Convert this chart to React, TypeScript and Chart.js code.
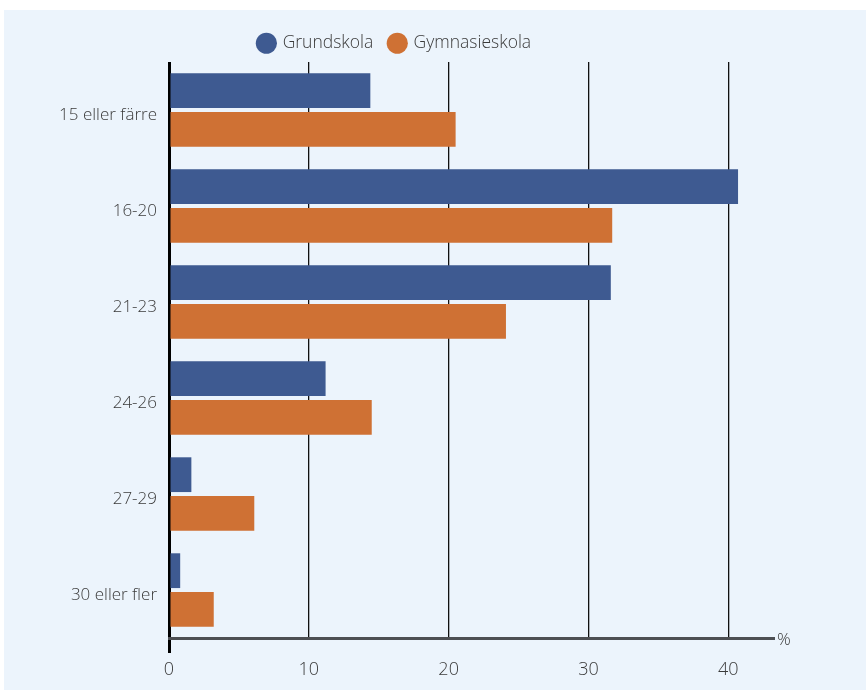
import React, { useEffect, useRef } from "react";
import { Chart, registerables } from "chart.js";

Chart.register(...registerables);

const categories = ["15 eller färre", "16-20", "21-23", "24-26", "27-29", "30 eller fler"];
const grundskola = [14.4, 40.7, 31.6, 11.2, 1.6, 0.8];
const gymnasieskola = [20.5, 31.7, 24.1, 14.5, 6.1, 3.2];
const seriesNames = ["Grundskola", "Gymnasieskola"];
const xTickValues = [0, 10, 20, 30, 40];
const unitLabel = "%";

const FONT = "'Open Sans', 'Noto Sans', sans-serif";
const TEXT = "#3a3a3a";

const unitPlugin = {
  id: "unitLabel",
  afterDraw(chart: any) {
    const { ctx, chartArea } = chart;
    ctx.save();
    ctx.font = `300 17px ${FONT}`;
    ctx.fillStyle = TEXT;
    ctx.textAlign = "left";
    ctx.textBaseline = "middle";
    ctx.fillText(unitLabel, chartArea.right + 4, chartArea.bottom + 2);
    ctx.restore();
  },
};

export default function App() {
  const ref = useRef<HTMLCanvasElement>(null);
  useEffect(() => {
    if (!ref.current) return;
    const chart = new Chart(ref.current, {
      type: "bar",
      data: {
        labels: categories,
        datasets: [
          {
            label: seriesNames[0],
            data: grundskola,
            backgroundColor: "#3E5A91",
            categoryPercentage: 0.805,
            barPercentage: 0.9,
          },
          {
            label: seriesNames[1],
            data: gymnasieskola,
            backgroundColor: "#CF7134",
            categoryPercentage: 0.805,
            barPercentage: 0.9,
          },
        ],
      },
      options: {
        indexAxis: "y",
        animation: false,
        responsive: false,
        maintainAspectRatio: false,
        layout: { padding: { left: 17, right: 93, top: 18, bottom: 0 } },
        plugins: {
          legend: {
            display: true,
            position: "top",
            labels: {
              usePointStyle: true,
              pointStyle: "circle",
              boxHeight: 15,
              boxWidth: 15,
              padding: 16.5,
              color: TEXT,
              font: { family: FONT, size: 17.5, weight: "300" },
            },
          },
          tooltip: { enabled: false },
        },
        scales: {
          x: {
            type: "linear",
            min: 0,
            max: 43.2,
            afterBuildTicks: (scale: any) => {
              scale.ticks = xTickValues.map((v) => ({ value: v }));
            },
            afterFit: (scale: any) => {
              scale.height = 55;
            },
            grid: {
              display: true,
              drawOnChartArea: true,
              drawTicks: true,
              tickLength: 15,
              color: (c: any) => (c.tick && c.tick.value === 0 ? "#000" : "#111"),
              lineWidth: (c: any) => (c.tick && c.tick.value === 0 ? 3 : 1.3),
              tickColor: (c: any) => (c.tick && c.tick.value === 0 ? "#000" : "rgba(0,0,0,0)"),
              tickWidth: 3,
            },
            border: { display: true, color: "#4D4F53", width: 3 },
            ticks: {
              color: TEXT,
              font: { family: FONT, size: 18, weight: "300" },
              padding: 6,
            },
          },
          y: {
            afterFit: (scale: any) => {
              scale.width = 152;
            },
            grid: { display: false },
            border: { display: false },
            ticks: {
              color: TEXT,
              font: { family: FONT, size: 17, weight: "300" },
              padding: 4,
              labelOffset: 5,
            },
          },
        },
      },
      plugins: [unitPlugin],
    });
    return () => chart.destroy();
  }, []);

  return (
    <div style={{ position: "absolute", left: 0, top: 0, width: 866, height: 693, background: "#fff" }}>
      <div style={{ position: "absolute", left: 4, top: 10, right: 0, bottom: 3, background: "#ECF4FC" }} />
      <canvas ref={ref} width={866} height={693} style={{ position: "absolute", left: 0, top: 0 }} />
    </div>
  );
}
